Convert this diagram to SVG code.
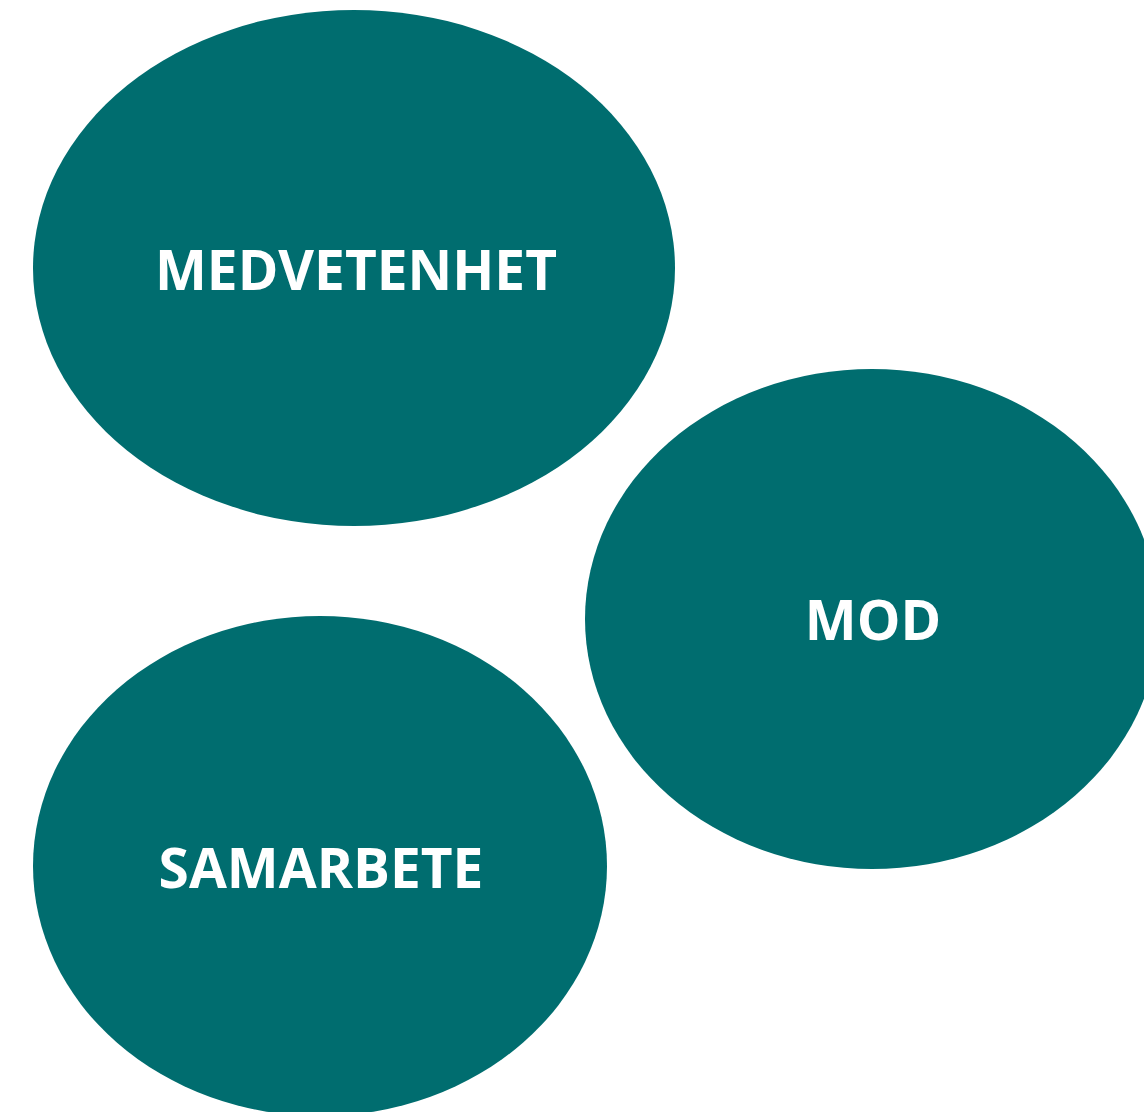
<svg xmlns="http://www.w3.org/2000/svg" width="1144" height="1112" viewBox="0 0 1144 1112">
<style>
.node{fill:#006D6F;}
.lbl{font-family:"Open Sans","Liberation Sans",sans-serif;font-weight:bold;font-size:55px;fill:#FFFFFF;text-anchor:middle;}
</style>
<rect width="1144" height="1112" fill="#FFFFFF"/>
<g id="connectors"></g>
<g id="node-medvetenhet">
<ellipse class="node" cx="354" cy="268" rx="321" ry="258"/>
<text class="lbl" x="356" y="290">MEDVETENHET</text>
</g>
<g id="node-mod">
<ellipse class="node" cx="872" cy="619" rx="287" ry="250"/>
<text class="lbl" x="873" y="640">MOD</text>
</g>
<g id="node-samarbete">
<ellipse class="node" cx="320" cy="866" rx="287" ry="250"/>
<text class="lbl" x="321" y="888">SAMARBETE</text>
</g>
</svg>
